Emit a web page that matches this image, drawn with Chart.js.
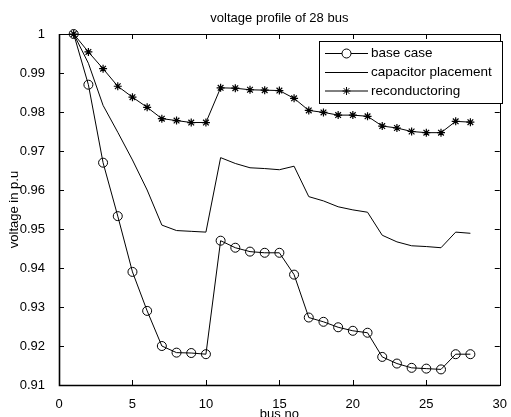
<!DOCTYPE html>
<html>
<head>
<meta charset="utf-8">
<script src="https://cdn.jsdelivr.net/npm/chart.js@4/dist/chart.umd.min.js"></script>
<style>
html,body{margin:0;padding:0;background:#fff;}
#wrap{width:511px;height:417px;}
</style>
</head>
<body>
<div id="wrap"><canvas id="c" width="511" height="417"></canvas></div>
<script>
const buses = [1,2,3,4,5,6,7,8,9,10,11,12,13,14,15,16,17,18,19,20,21,22,23,24,25,26,27,28];
const baseCase = [1.0,0.987,0.967,0.9533,0.939,0.929,0.920,0.9183,0.9182,0.9179,0.947,0.9452,0.9442,0.9439,0.9439,0.9383,0.9273,0.9262,0.9248,0.9239,0.9234,0.9172,0.9155,0.9144,0.9142,0.9140,0.9179,0.9179];
const capacitor = [1.0,0.9925,0.9817,0.9748,0.9677,0.9600,0.9510,0.9496,0.9494,0.9492,0.9683,0.9668,0.9657,0.9655,0.9652,0.9661,0.9583,0.9572,0.9557,0.9549,0.9543,0.9484,0.9467,0.9457,0.9455,0.9452,0.9492,0.9489];
const reconductoring = [1.0,0.9954,0.9911,0.9866,0.9838,0.9812,0.9783,0.9778,0.9773,0.9773,0.9862,0.9861,0.9857,0.9856,0.9855,0.9835,0.9804,0.9799,0.9792,0.9792,0.9789,0.9764,0.9759,0.9750,0.9747,0.9747,0.9776,0.9774];
const seriesNames = ['base case','capacitor placement','reconductoring'];
const xTicks = [0,5,10,15,20,25,30];
const yTicks = [0.91,0.92,0.93,0.94,0.95,0.96,0.97,0.98,0.99,1];

const FONT = 'Liberation Sans, Arial, Helvetica, sans-serif';

function pts(vals){ return buses.map((b,i)=>({x:b,y:vals[i]})); }

const boxPlugin = {
  id:'boxPlugin',
  afterDatasetsDraw(chart){
    const {ctx, chartArea:a, scales:{x,y}} = chart;
    ctx.save();
    ctx.strokeStyle='#000';
    ctx.lineWidth=1;
    const tl=5;
    ctx.beginPath();
    xTicks.forEach(t=>{
      const px=Math.round(x.getPixelForValue(t))+0.5;
      ctx.moveTo(px,a.bottom); ctx.lineTo(px,a.bottom-tl);
      ctx.moveTo(px,a.top); ctx.lineTo(px,a.top+tl);
    });
    yTicks.forEach(t=>{
      const py=Math.round(y.getPixelForValue(t))+0.5;
      ctx.moveTo(a.left,py); ctx.lineTo(a.left+tl,py);
      ctx.moveTo(a.right,py); ctx.lineTo(a.right-tl,py);
    });
    ctx.stroke();
    ctx.lineWidth=1;
    ctx.strokeRect(Math.round(a.left)+0.5,Math.round(a.top)+0.5,Math.round(a.right-a.left),Math.round(a.bottom-a.top));
    ctx.lineWidth=1.6;
    ctx.beginPath();
    ctx.moveTo(a.left+0.5,a.top); ctx.lineTo(a.left+0.5,a.bottom+0.5); ctx.lineTo(a.right,a.bottom+0.5);
    ctx.stroke();
    ctx.restore();
  },
  afterDraw(chart){
    const {ctx} = chart;
    const bx=319.5, by=41.5, bw=183, bh=62;
    ctx.save();
    ctx.fillStyle='#fff';
    ctx.fillRect(bx,by,bw,bh);
    ctx.strokeStyle='#000';
    ctx.lineWidth=1;
    ctx.strokeRect(bx,by,bw,bh);
    const rows=[53.5,72.5,91];
    chart.data.datasets.forEach((ds,i)=>{
      const yy=rows[i];
      ctx.strokeStyle='#000';
      ctx.lineWidth=1;
      ctx.beginPath(); ctx.moveTo(325,yy); ctx.lineTo(368,yy); ctx.stroke();
      if(ds.pointRadius>0){
        if(ds.pointStyle==='circle'){
          ctx.fillStyle='#fff';
          ctx.beginPath();ctx.arc(346.5,yy,ds.pointRadius,0,Math.PI*2);ctx.fill();ctx.stroke();
        } else {
          Chart.helpers.drawPoint(ctx,{pointStyle:ds.pointStyle,radius:ds.pointRadius,rotation:0,borderWidth:1},346.5,yy);
        }
      }
      ctx.fillStyle='#000';
      ctx.font='13.5px '+FONT;
      ctx.textBaseline='middle';
      ctx.textAlign='left';
      ctx.fillText(ds.label,371,yy);
    });
    ctx.restore();
  }
};

new Chart(document.getElementById('c'),{
  type:'line',
  data:{
    datasets:[
      {label:seriesNames[0],data:pts(baseCase),borderColor:'#000',borderWidth:1,pointStyle:'circle',pointRadius:4.5,pointBorderColor:'#000',pointBackgroundColor:'rgba(0,0,0,0)',pointBorderWidth:1,tension:0,clip:false},
      {label:seriesNames[1],data:pts(capacitor),borderColor:'#000',borderWidth:1,pointRadius:0,tension:0,clip:false},
      {label:seriesNames[2],data:pts(reconductoring),borderColor:'#000',borderWidth:1,pointStyle:'star',pointRadius:4,pointBorderColor:'#000',pointBorderWidth:1.2,tension:0,clip:false}
    ]
  },
  options:{
    responsive:false,
    animation:false,
    devicePixelRatio:1,
    layout:{padding:{left:0,right:7,top:0,bottom:0}},
    plugins:{
      legend:{display:false},
      tooltip:{enabled:false},
      title:{display:true,text:'voltage profile of 28 bus',color:'#000',fullSize:false,font:{family:FONT,size:13,weight:'normal'},padding:{top:11,bottom:7.4}}
    },
    scales:{
      x:{type:'linear',min:0,max:30,
        afterBuildTicks:s=>{s.ticks=xTicks.map(v=>({value:v}));},
        afterFit:s=>{s.height=32;},
        grid:{display:false},border:{display:false},
        ticks:{color:'#000',padding:4,font:{family:FONT,size:13},maxRotation:0,autoSkip:false},
        title:{display:true,text:'bus no',color:'#000',font:{family:FONT,size:13},padding:{top:0,bottom:-5}}
      },
      y:{type:'linear',min:0.91,max:1,
        afterBuildTicks:s=>{s.ticks=yTicks.map(v=>({value:v}));},
        afterFit:s=>{s.width=59;},
        grid:{display:false},border:{display:false},
        ticks:{color:'#000',padding:6,font:{family:FONT,size:13},autoSkip:false,callback:v=>(v===1?'1':v.toFixed(2))},
        title:{display:true,text:'voltage in p.u',color:'#000',font:{family:FONT,size:13},padding:{top:7,bottom:0}}
      }
    }
  },
  plugins:[boxPlugin]
});
</script>
</body>
</html>
